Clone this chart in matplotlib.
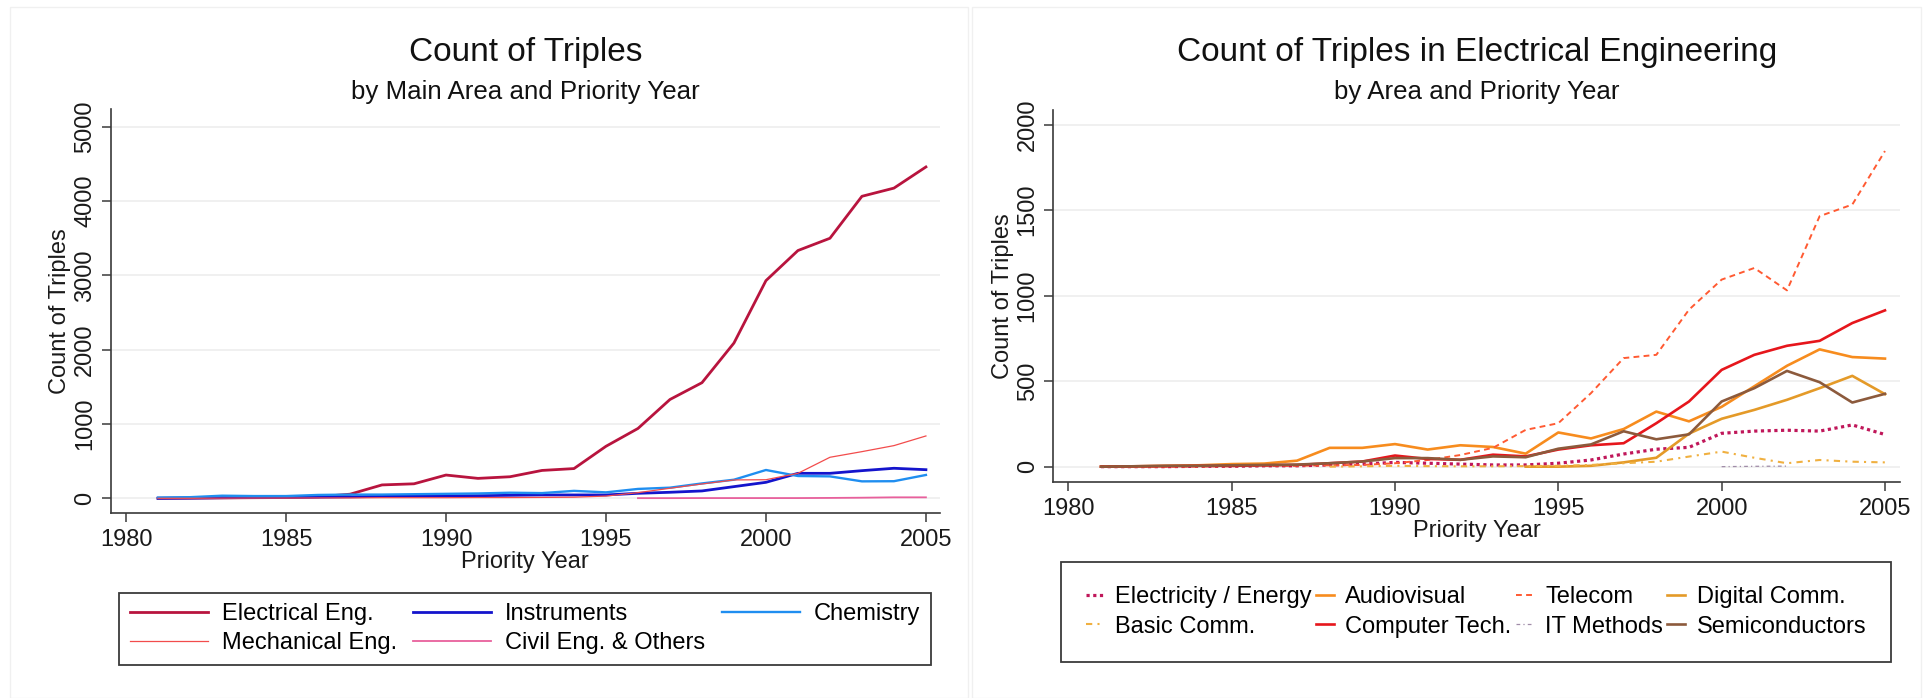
import matplotlib
matplotlib.use("Agg")
import matplotlib.pyplot as plt
from matplotlib.patches import Rectangle

plt.rcParams['font.family'] = ['Liberation Sans', 'DejaVu Sans']

# ---------------- data: left panel (main areas) ----------------
years = list(range(1981, 2006))
electrical = [0, 2, 5, 8, 10, 20, 55, 180, 195, 313, 268, 290, 375, 400, 700,
              940, 1330, 1556, 2090, 2930, 3335, 3500, 4065, 4175, 4460]
instruments = [0, 3, 8, 10, 12, 15, 20, 25, 30, 32, 35, 40, 45, 45, 45,
               67, 81, 99, 157, 215, 336, 336, 372, 404, 385]
chemistry = [10, 15, 35, 30, 30, 45, 50, 50, 55, 60, 65, 75, 70, 100, 80,
             126, 143, 200, 250, 381, 300, 295, 228, 230, 314]
mechanical = [0, 0, 2, 3, 3, 5, 5, 8, 8, 8, 10, 10, 12, 15, 30,
              76, 135, 193, 247, 250, 336, 552, 628, 709, 839]
civil_years = list(range(1996, 2006))
civil = [2, 2, 3, 3, 3, 3, 5, 8, 13, 13]

# ---------------- data: right panel (electrical engineering areas) ----------------
elec_energy = [0, 0, 0, 2, 2, 5, 5, 10, 15, 25, 20, 15, 10, 10, 20,
               39, 74, 102, 113, 195, 208, 213, 208, 244, 188]
audiovisual = [0, 2, 5, 8, 15, 18, 35, 110, 110, 132, 100, 125, 115, 76, 200,
               165, 220, 322, 265, 350, 470, 590, 686, 641, 632]
telecom = [0, 0, 0, 0, 2, 5, 5, 8, 10, 20, 39, 68, 110, 215, 254,
           430, 635, 654, 918, 1094, 1162, 1031, 1465, 1533, 1846]
digital_years = list(range(1994, 2006))
digital = [0, 0, 5, 25, 52, 193, 280, 332, 391, 459, 531, 424]
basic_years = list(range(1988, 2006))
basic = [0, 2, 5, 3, 2, 2, 3, 5, 10, 20, 29, 59, 88, 52, 20, 39, 29, 25]
computer = [0, 2, 3, 5, 5, 8, 10, 20, 30, 65, 45, 40, 70, 60, 100,
            125, 137, 254, 381, 566, 654, 707, 736, 840, 914]
it_years = [2000, 2001, 2002]
it_methods = [0, 2, 3]
semis = [0, 2, 5, 5, 8, 10, 12, 20, 30, 50, 50, 40, 60, 55, 105,
         130, 207, 160, 189, 381, 459, 560, 494, 375, 426]

W, H = 1929, 698
fig = plt.figure(figsize=(W / 100, H / 100), dpi=100)

# faint panel borders (Stata graph regions)
for x0, x1 in [(10, 968), (972, 1921)]:
    fig.patches.append(Rectangle((x0 / W, 0), (x1 - x0) / W, 1 - 7 / H,
                                 transform=fig.transFigure, fill=False,
                                 edgecolor='#f0f0f0', linewidth=1.0))


def style_axes(ax, yticks, ylim, xlim):
    ax.set_xlim(*xlim)
    ax.set_ylim(*ylim)
    ax.set_xticks(range(1980, 2006, 5))
    ax.set_yticks(yticks)
    ax.spines['top'].set_visible(False)
    ax.spines['right'].set_visible(False)
    for s in ['left', 'bottom']:
        ax.spines[s].set_color('#3a3a3a')
        ax.spines[s].set_linewidth(1.2)
    ax.tick_params(axis='both', length=6.5, width=1.1, color='#3a3a3a',
                   labelsize=17, labelcolor='#1a1a1a', pad=5)
    ax.tick_params(axis='y', labelrotation=90, pad=4)
    for lab in ax.get_yticklabels():
        lab.set_va('center')
    ax.grid(axis='y', color='#ededed', linewidth=1.2)
    ax.set_axisbelow(True)
    ax.set_xlabel('Priority Year', fontsize=17, labelpad=0, color='#1a1a1a')
    ax.set_ylabel('Count of Triples', fontsize=17, labelpad=2, color='#1a1a1a')


# ---------------- left panel ----------------
ax1 = fig.add_axes([110.7 / W, (H - 513.3) / H, (940 - 110.7) / W, (513.3 - 109) / H])
ax1.plot(years, electrical, color='#b8143e', lw=2.0, label='Electrical Eng.')
ax1.plot(years, instruments, color='#1414cc', lw=2.0, label='Instruments')
ax1.plot(years, chemistry, color='#1f8ef0', lw=1.7, label='Chemistry')
ax1.plot(years, mechanical, color='#f24c4c', lw=0.9, label='Mechanical Eng.')
ax1.plot(civil_years, civil, color='#e8609c', lw=1.3, label='Civil Eng. & Others')
style_axes(ax1, range(0, 5001, 1000), (-202, 5240), (1979.52, 2005.44))

cx1 = (110.7 + 940) / 2 / W
fig.text(cx1, 1 - 52 / H, 'Count of Triples', ha='center', va='center', fontsize=24, color='#111111')
fig.text(cx1, 1 - 92 / H, 'by Main Area and Priority Year', ha='center', va='center', fontsize=18.6, color='#111111')

h1, l1 = ax1.get_legend_handles_labels()
order1 = [0, 3, 1, 4, 2]  # row-wise fill like Stata
leg1 = fig.legend([h1[i] for i in order1], [l1[i] for i in order1], ncol=3,
                  loc='upper left', bbox_to_anchor=(119 / W, (H - 592.7) / H, 812 / W, 0),
                  mode='expand', fontsize=17, handlelength=3.3, handletextpad=0.6,
                  borderpad=0.45, labelspacing=0.3, borderaxespad=0, columnspacing=0.7,
                  fancybox=False, edgecolor='#3a3a3a', framealpha=1)
leg1.get_frame().set_linewidth(1.3)

# ---------------- right panel ----------------
ax2 = fig.add_axes([1053.3 / W, (H - 481.7) / H, (1900 - 1053.3) / W, (481.7 - 110) / H])
ax2.plot(years, elec_energy, color='#c0175a', lw=2.3, linestyle=(0, (1, 1.1)), label='Electricity / Energy')
ax2.plot(years, audiovisual, color='#f78c1e', lw=1.9, label='Audiovisual')
ax2.plot(years, telecom, color='#ff5a32', lw=1.4, linestyle=(0, (3, 2.2)), label='Telecom')
ax2.plot(digital_years, digital, color='#e49a28', lw=1.9, label='Digital Comm.')
ax2.plot(basic_years, basic, color='#f0b040', lw=1.5, linestyle=(0, (3, 2.5, 1, 2.5)), label='Basic Comm.')
ax2.plot(years, computer, color='#e6161c', lw=1.9, label='Computer Tech.')
ax2.plot(it_years, it_methods, color='#a08ca8', lw=0.9, linestyle=(0, (3, 2.5, 1, 2.5)), label='IT Methods')
ax2.plot(years, semis, color='#8c5a3c', lw=1.9, label='Semiconductors')
style_axes(ax2, range(0, 2001, 500), (-88, 2086), (1979.54, 2005.46))

cx2 = (1053.3 + 1900) / 2 / W
fig.text(cx2, 1 - 52 / H, 'Count of Triples in Electrical Engineering', ha='center', va='center',
         fontsize=24, color='#111111')
fig.text(cx2, 1 - 92 / H, 'by Area and Priority Year', ha='center', va='center', fontsize=18.6, color='#111111')

h2, l2 = ax2.get_legend_handles_labels()
order2 = [0, 4, 1, 5, 2, 6, 3, 7]
leg2 = fig.legend([h2[i] for i in order2], [l2[i] for i in order2], ncol=4,
                  loc='upper left', bbox_to_anchor=(1061 / W, (H - 561.7) / H, 830 / W, 0),
                  mode='expand', fontsize=17, handlelength=0.75, handletextpad=0.5,
                  borderpad=1.05, labelspacing=0.3, borderaxespad=0, columnspacing=0.1,
                  fancybox=False, edgecolor='#3a3a3a', framealpha=1)
leg2.get_frame().set_linewidth(1.3)

fig.savefig('out.png', dpi=100)
